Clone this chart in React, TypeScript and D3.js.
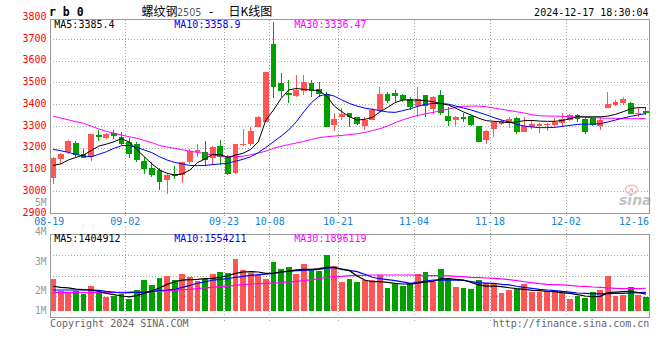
import React from 'react';
import * as d3 from 'd3';

const dates = [
  '08-19','08-20','08-21','08-22','08-23','08-26','08-27','08-28','08-29','08-30',
  '09-02','09-03','09-04','09-05','09-06','09-09','09-10','09-11','09-12','09-13',
  '09-18','09-19','09-20','09-23','09-24','09-25','09-26','09-27','09-30',
  '10-08','10-09','10-10','10-11','10-14','10-15','10-16','10-17','10-18',
  '10-21','10-22','10-23','10-24','10-25','10-28','10-29','10-30','10-31','11-01',
  '11-04','11-05','11-06','11-07','11-08','11-11','11-12','11-13','11-14','11-15',
  '11-18','11-19','11-20','11-21','11-22','11-25','11-26','11-27','11-28','11-29',
  '12-02','12-03','12-04','12-05','12-06','12-09','12-10','12-11','12-12','12-13',
  '12-16',
];

const open = [
  3064,3151,3183,3223,3173,3160,3260,3246,3268,3252,
  3229,3221,3140,3107,3099,3053,3083,3076,3134,3180,
  3183,3153,3209,3160,3084,3212,3219,3298,3321,3678,
  3497,3451,3439,3464,3497,3470,3448,3306,3344,3360,
  3341,3301,3329,3375,3448,3451,3444,3425,3393,3442,
  3378,3444,3347,3329,3344,3347,3301,3237,3286,3310,
  3317,3340,3275,3295,3301,3307,3306,3317,3329,3352,
  3335,3340,3301,3386,3398,3409,3409,3358,3371,
];
const high = [
  3160,3179,3237,3234,3194,3265,3283,3268,3283,3275,
  3245,3229,3160,3137,3107,3081,3117,3137,3194,3217,
  3232,3209,3237,3168,3221,3286,3298,3347,3548,3781,
  3543,3513,3536,3536,3513,3505,3459,3360,3383,3363,
  3344,3341,3383,3482,3459,3467,3448,3433,3479,3444,
  3439,3467,3390,3347,3360,3352,3301,3283,3321,3329,
  3341,3344,3344,3329,3314,3317,3337,3360,3356,3355,
  3344,3344,3344,3459,3421,3436,3413,3383,3387,
];
const low = [
  3035,3129,3172,3157,3153,3142,3234,3240,3240,3215,
  3153,3137,3081,3065,3007,2987,3056,3038,3127,3160,
  3119,3122,3122,3078,3082,3209,3209,3295,3318,3428,
  3436,3405,3436,3444,3436,3436,3298,3278,3329,3298,
  3306,3283,3329,3367,3405,3413,3413,3375,3344,3344,
  3356,3352,3301,3301,3321,3301,3229,3219,3252,3304,
  3290,3265,3275,3289,3271,3278,3298,3295,3326,3321,
  3265,3301,3283,3383,3393,3398,3356,3344,3352,
];
const close = [
  3156,3174,3234,3168,3156,3265,3249,3264,3257,3219,
  3173,3145,3104,3076,3045,3076,3073,3134,3186,3191,
  3145,3206,3160,3081,3219,3221,3278,3341,3548,3482,
  3462,3442,3467,3502,3462,3448,3298,3334,3355,3344,
  3310,3329,3375,3448,3418,3439,3421,3390,3424,3393,
  3436,3363,3326,3344,3335,3304,3229,3278,3321,3324,
  3332,3275,3301,3309,3310,3310,3321,3332,3352,3335,
  3275,3306,3329,3402,3413,3424,3356,3363,3360,
];

const ma5 = [
  3120,3127,3145,3157,3168,3188,3209,3218,3229,3243,
  3228,3194,3160,3127,3099,3084,3076,3081,3099,3133,
  3150,3171,3169,3157,3168,3176,3194,3229,3329,3375,
  3428,3467,3474,3470,3467,3464,3439,3393,3367,3344,
  3329,3332,3341,3366,3387,3409,3421,3421,3421,3418,
  3413,3405,3398,3383,3366,3352,3337,3326,3323,3320,
  3317,3321,3326,3327,3324,3323,3323,3327,3335,3344,
  3344,3344,3344,3347,3355,3367,3381,3386,3385.4,
];
const ma10 = [
  3194,3188,3180,3171,3163,3160,3171,3183,3199,3211,
  3212,3203,3191,3179,3160,3145,3134,3127,3120,3119,
  3120,3124,3127,3130,3140,3148,3160,3179,3203,3229,
  3255,3283,3321,3367,3409,3439,3448,3439,3421,3405,
  3393,3384,3378,3372,3366,3364,3372,3381,3392,3401,
  3405,3405,3402,3393,3384,3375,3364,3353,3340,3329,
  3320,3309,3301,3297,3294,3294,3295,3300,3304,3309,
  3310,3310,3312,3320,3329,3338,3346,3352,3358.9,
];
const ma30 = [
  3346,3338,3330,3321,3314,3301,3288,3277,3268,3260,
  3252,3245,3235,3225,3212,3205,3199,3192,3186,3180,
  3174,3168,3163,3160,3160,3163,3169,3177,3186,3199,
  3208,3216,3223,3231,3240,3248,3252,3255,3258,3262,
  3266,3272,3280,3289,3301,3317,3330,3341,3350,3358,
  3364,3372,3379,3387,3392,3393,3393,3390,3384,3378,
  3373,3367,3361,3353,3349,3347,3347,3346,3344,3343,
  3341,3340,3338,3337,3337,3335,3335,3335,3336.47,
];

// volumes in millions of lots
const volume = [
  2.67,1.67,1.56,1.67,1.44,2.08,1.61,1.19,1.28,1.39,
  1.03,1.75,2.58,2.19,2.75,2.92,2.58,3.08,2.83,2.53,
  2.67,3.08,3.25,3.17,4.33,3.42,3.14,3.00,2.67,4.08,
  3.50,3.67,3.08,3.92,3.50,3.36,4.67,3.75,2.44,2.67,
  2.44,2.58,2.58,3.00,1.92,2.28,2.08,2.31,3.08,3.25,
  2.42,3.50,2.67,2.00,1.92,1.83,2.58,2.31,2.31,1.50,
  1.75,1.83,2.25,1.58,1.58,1.69,1.69,1.47,1.00,1.28,
  1.08,1.58,1.75,2.94,1.28,1.33,2.03,1.33,1.19,
];
const volMa5 = [
  2.06,1.97,1.92,1.83,1.78,1.75,1.64,1.47,1.36,1.25,
  1.17,1.28,1.47,1.69,1.92,2.22,2.44,2.58,2.61,2.64,
  2.69,2.72,2.81,2.94,3.14,3.25,3.28,3.25,3.14,3.14,
  3.25,3.33,3.42,3.47,3.47,3.53,3.64,3.64,3.47,3.36,
  2.92,2.58,2.44,2.44,2.39,2.31,2.25,2.25,2.33,2.42,
  2.47,2.67,2.69,2.64,2.58,2.38,2.17,2.08,2.08,2.03,
  1.94,1.86,1.81,1.72,1.69,1.64,1.61,1.53,1.47,1.36,
  1.25,1.19,1.22,1.53,1.58,1.61,1.64,1.53,1.404912,
];
const volMa10 = [
  1.75,1.75,1.75,1.75,1.75,1.75,1.72,1.64,1.58,1.50,
  1.53,1.56,1.58,1.61,1.72,1.75,1.81,1.97,2.14,2.31,
  2.42,2.58,2.64,2.69,2.81,2.89,2.97,3.03,3.08,3.14,
  3.25,3.31,3.36,3.39,3.42,3.47,3.58,3.61,3.50,3.39,
  3.28,3.06,2.81,2.69,2.61,2.53,2.42,2.31,2.39,2.50,
  2.58,2.58,2.58,2.58,2.55,2.45,2.36,2.33,2.31,2.22,
  2.17,2.06,1.97,1.89,1.81,1.75,1.69,1.64,1.58,1.50,
  1.47,1.44,1.42,1.44,1.47,1.47,1.50,1.53,1.554211,
];
const volMa30 = [
  1.56,1.56,1.56,1.56,1.54,1.53,1.53,1.53,1.54,1.56,
  1.58,1.61,1.61,1.61,1.64,1.69,1.72,1.78,1.81,1.86,
  1.92,1.97,2.03,2.08,2.14,2.19,2.25,2.28,2.31,2.33,
  2.36,2.42,2.47,2.53,2.61,2.69,2.81,2.86,2.89,2.94,
  2.97,2.97,3.00,3.00,3.00,3.00,3.00,3.00,2.97,2.94,
  2.94,2.94,2.92,2.89,2.86,2.81,2.78,2.75,2.72,2.67,
  2.61,2.53,2.44,2.36,2.28,2.22,2.19,2.17,2.14,2.08,
  2.06,2.00,1.97,1.92,1.89,1.86,1.86,1.86,1.896119,
];

const priceTicks = [3800, 3700, 3600, 3500, 3400, 3300, 3200, 3100, 3000, 2900];
const volTickValues = [5, 4, 3, 2, 1];
const xTickDates = ['08-19', '09-02', '09-23', '10-08', '10-21', '11-04', '11-18', '12-02', '12-16'];

const contractCode = 'r b 0';
const titleName = '螺纹钢';
const titleMonth = '2505';
const titleSuffix = '日K线图';
const stamp = '2024-12-17 18:30:04';

const MONO = "'DejaVu Sans Mono', monospace";
const CJK = "'Noto Sans CJK SC', sans-serif";
const UP = '#ff5555';
const DOWN = '#00a000';
const BORDER = '#9a9a9a';
const GRID = '#a8a8a8';

const LEFT = 50;
const RIGHT = 649.5;
const MAIN_TOP = 19.5;
const MAIN_BOTTOM = 213.5;
const VOL_TOP = 234.5;
const VOL_BOTTOM = 317.5;
const VOL_BASE = 311;

export default function App() {
  const x = d3.scaleBand<string>().domain(dates).range([49.3, 649.7]).paddingInner(0.25).paddingOuter(0.125);
  const bw = x.bandwidth();
  const step = x.step();
  const cx = (i: number) => (x(dates[i]) as number) + bw / 2;
  const slotLeft = (d: string) => (x(d) as number) - step * 0.125;

  const y = d3.scaleLinear().domain([2900, 3800]).range([213.3, 17.6]);
  const yv = d3.scaleLinear().domain([0, 6]).range([VOL_BASE, VOL_BASE - 72]);
  const volLabelY = d3.scaleLinear().domain([4, 2]).range([235.3, 294.3]);

  const priceLine = (arr: number[]) =>
    d3.line<number>().x((_, i) => cx(i)).y((v) => y(v))(arr) as string;
  const volLine = (arr: number[]) =>
    d3.line<number>().x((_, i) => cx(i)).y((v) => yv(v))(arr) as string;

  const last = dates.length - 1;
  const innerTicks = xTickDates.slice(1, -1);

  return (
    <svg width={660} height={360} style={{ position: 'absolute', left: 0, top: 0, background: '#fff' }}
      fontFamily={MONO}>
      <rect x={0} y={0} width={660} height={360} fill="#fff" />

      {/* title row */}
      <text x={49} y={16} fontSize={11.5} fontWeight="bold" fill="#000">{contractCode}</text>
      <text x={141.5} y={16} fontSize={12} fontFamily={CJK} fill="#000">{titleName}</text>
      <text x={177} y={16} fontSize={9.6} fontFamily="'DejaVu Sans', sans-serif" fill="#555">{titleMonth}</text>
      <text x={207.5} y={16} fontSize={12} fill="#000">-</text>
      <text x={228.5} y={16} fontSize={12} fontFamily={CJK} fill="#000">{titleSuffix}</text>
      <text x={648.5} y={15.6} fontSize={10} textAnchor="end" fill="#000">{stamp}</text>

      {/* main grid */}
      <g shapeRendering="crispEdges">
        {priceTicks.filter((t) => y(t) > MAIN_TOP + 1 && y(t) < MAIN_BOTTOM - 1).map((t) => (
          <line key={'h' + t} x1={LEFT} x2={RIGHT} y1={y(t)} y2={y(t)} stroke={GRID} strokeDasharray="1 2" />
        ))}
        {innerTicks.map((d) => (
          <line key={'v' + d} x1={slotLeft(d)} x2={slotLeft(d)} y1={MAIN_TOP} y2={MAIN_BOTTOM + 2}
            stroke={GRID} strokeDasharray="1 2" />
        ))}
        {/* volume grid */}
        {[1, 2, 3].map((k) => {
          const gy = VOL_BOTTOM - ((VOL_BOTTOM - VOL_TOP) * k) / 4;
          return <line key={'vh' + k} x1={LEFT} x2={RIGHT} y1={gy} y2={gy} stroke={GRID} strokeDasharray="1 2" />;
        })}
        {innerTicks.map((d) => (
          <line key={'vv' + d} x1={slotLeft(d)} x2={slotLeft(d)} y1={227} y2={321}
            stroke={GRID} strokeDasharray="1 2" />
        ))}
      </g>

      {/* sina watermark */}
      <g opacity={0.85}>
        <ellipse cx={631.5} cy={189.5} rx={6} ry={4.2} fill="none" stroke="#f2b4b4" strokeWidth={1.6} />
        <circle cx={631.5} cy={189.8} r={1.8} fill="#f2b4b4" />
        <text x={619} y={205} fontSize={14} fontStyle="italic" fontWeight="bold"
          fontFamily="'DejaVu Sans', sans-serif" fill="#b8b8b8">sina</text>
      </g>

      {/* candles */}
      <g shapeRendering="crispEdges">
        {dates.map((d, i) => {
          const up = close[i] >= open[i];
          const col = up ? UP : DOWN;
          const top = y(Math.max(open[i], close[i]));
          const bot = y(Math.min(open[i], close[i]));
          return (
            <g key={d}>
              <line x1={cx(i)} x2={cx(i)} y1={y(high[i])} y2={y(low[i])} stroke={col} />
              <rect x={x(d)} y={top} width={bw} height={Math.max(1, bot - top)} fill={col} />
            </g>
          );
        })}
      </g>

      {/* price MAs */}
      <path d={priceLine(ma30)} fill="none" stroke="#ff00ff" strokeWidth={1} />
      <path d={priceLine(ma10)} fill="none" stroke="#0000ff" strokeWidth={1} />
      <path d={priceLine(ma5)} fill="none" stroke="#000" strokeWidth={1} />

      {/* volume bars */}
      <g shapeRendering="crispEdges">
        {dates.map((d, i) => (
          <rect key={'vb' + d} x={x(d)} y={yv(volume[i])} width={bw} height={VOL_BASE - yv(volume[i])}
            fill={close[i] >= open[i] ? UP : DOWN} />
        ))}
      </g>
      <path d={volLine(volMa30)} fill="none" stroke="#ff00ff" strokeWidth={1.2} />
      <path d={volLine(volMa10)} fill="none" stroke="#0000ff" strokeWidth={1.2} />
      <path d={volLine(volMa5)} fill="none" stroke="#000" strokeWidth={1.2} />

      {/* borders */}
      <g shapeRendering="crispEdges" fill="none" stroke={BORDER}>
        <rect x={LEFT} y={MAIN_TOP} width={RIGHT - LEFT} height={MAIN_BOTTOM - MAIN_TOP} />
        <rect x={LEFT} y={VOL_TOP} width={RIGHT - LEFT} height={VOL_BOTTOM - VOL_TOP} />
      </g>

      {/* price axis labels */}
      {priceTicks.map((t) => (
        <text key={'pl' + t} x={46.5} y={y(t) + 2.3} fontSize={10} textAnchor="end" fill="#ff0000">{t}</text>
      ))}
      {/* volume axis labels */}
      {volTickValues.map((v) => (
        <text key={'vl' + v} x={46.5} y={Math.min(volLabelY(v), VOL_BASE + 3.3)} fontSize={9.6}
          textAnchor="end" fill="#999">{v + 'M'}</text>
      ))}

      {/* x labels */}
      {xTickDates.map((d, k) => {
        const isLast = k === xTickDates.length - 1;
        return (
          <text key={'xl' + d} x={isLast ? 649 : slotLeft(d)} y={224.8} fontSize={10}
            textAnchor={isLast ? 'end' : 'middle'} fill="#1a7fd4">{d}</text>
        );
      })}

      {/* legends */}
      <text x={54.3} y={27.6} fontSize={10} fill="#000">{'MA5:' + ma5[last]}</text>
      <text x={174.3} y={27.6} fontSize={10} fill="#0000ff">{'MA10:' + ma10[last]}</text>
      <text x={294.3} y={27.6} fontSize={10} fill="#ff00ff">{'MA30:' + ma30[last]}</text>
      <text x={54.3} y={242} fontSize={10} fill="#000">{'MA5:' + Math.round(volMa5[last] * 1e6)}</text>
      <text x={174.3} y={242} fontSize={10} fill="#0000ff">{'MA10:' + Math.round(volMa10[last] * 1e6)}</text>
      <text x={294.3} y={242} fontSize={10} fill="#ff00ff">{'MA30:' + Math.round(volMa30[last] * 1e6)}</text>

      {/* footer */}
      <text x={50} y={327} fontSize={10} fill="#666">Copyright 2024 SINA.COM</text>
      <text x={649.3} y={327} fontSize={10} textAnchor="end" fill="#666">http://finance.sina.com.cn</text>
    </svg>
  );
}
